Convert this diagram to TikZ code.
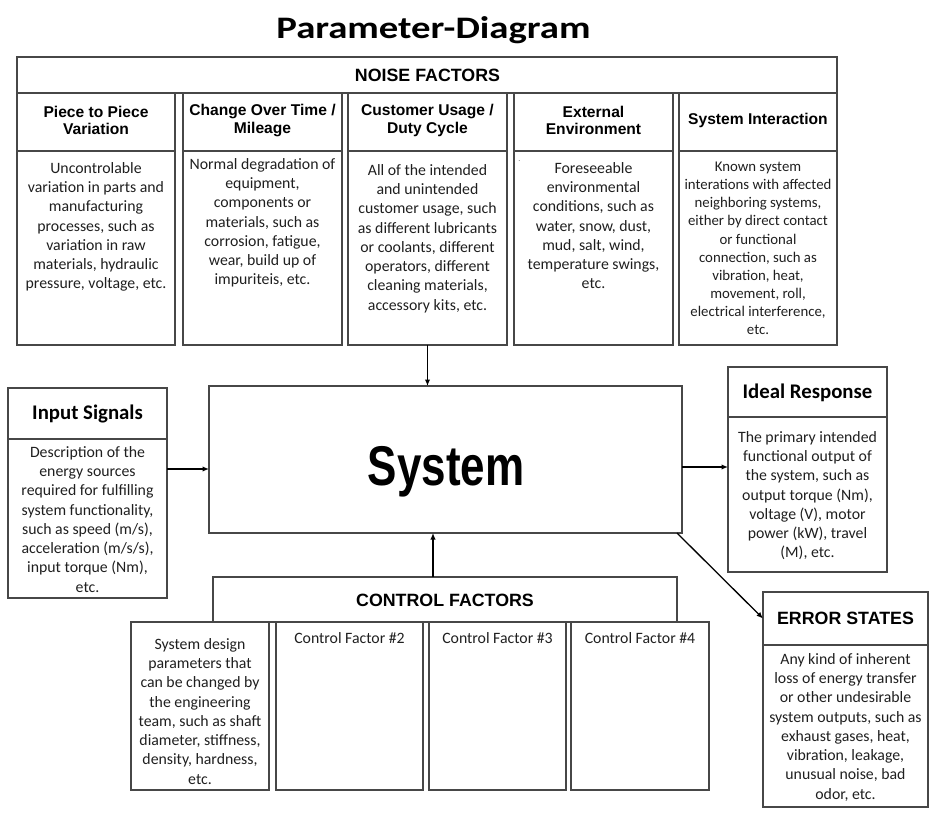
\documentclass[tikz,border=0pt]{standalone}
\usepackage{fontspec}
\usepackage{graphicx}
\setmainfont{Carlito}
\newfontfamily\arialf{Liberation Sans}
\usetikzlibrary{arrows.meta}
\begin{document}
\begin{tikzpicture}[x=1pt,y=-1pt,
  box/.style={draw=black!72, line width=1.2pt, inner sep=0pt, outer sep=0pt, anchor=north west},
  arr/.style={-{Latex[length=6.5pt,width=5.5pt]}, line width=1.3pt, black},
  hdr/.style={font=\arialf\bfseries\fontsize{15.6}{17.4}\selectfont, align=center, inner sep=0pt},
  bighdr/.style={font=\arialf\bfseries\fontsize{17.8}{20}\selectfont, inner sep=0pt},
  calhdr/.style={font=\bfseries\fontsize{20.8}{24}\selectfont, inner sep=0pt},
  body/.style={font=\fontsize{15.8}{19.3}\selectfont, align=center, anchor=north, inner sep=0pt, text=black!88},
  bodys/.style={font=\fontsize{14.8}{18.1}\selectfont, align=center, anchor=north, inner sep=0pt, text=black!88}
]
\useasboundingbox (0,0) rectangle (940,826);

% title
\node[font=\bfseries\fontsize{34}{40}\selectfont, anchor=base, inner sep=0pt] (title) at (433.5,39) {\scalebox{1.14}[0.92]{Parameter-Diagram}};

% noise factors
\node[box, minimum width=820pt, minimum height=36pt] (nh) at (17,57) {};
\node[bighdr] (nht) at (427.5,75) {NOISE FACTORS};

\node[box, minimum width=158pt, minimum height=58pt] (n1h) at (17,93) {};
\node[box, minimum width=158pt, minimum height=194pt] (n1b) at (17,151) {};
\node[box, minimum width=159pt, minimum height=58pt] (n2h) at (183,93) {};
\node[box, minimum width=159pt, minimum height=194pt] (n2b) at (183,151) {};
\node[box, minimum width=159pt, minimum height=58pt] (n3h) at (348,93) {};
\node[box, minimum width=159pt, minimum height=194pt] (n3b) at (348,151) {};
\node[box, minimum width=159pt, minimum height=58pt] (n4h) at (514,93) {};
\node[box, minimum width=159pt, minimum height=194pt] (n4b) at (514,151) {};
\node[box, minimum width=158pt, minimum height=58pt] (n5h) at (679,93) {};
\node[box, minimum width=158pt, minimum height=194pt] (n5b) at (679,151) {};

\node[hdr] (n1ht) at (96,120.5) {Piece to Piece\\Variation};
\node[hdr] (n2ht) at (262.5,120.5) {Change Over Time /\\Mileage};
\node[hdr] (n3ht) at (427.5,120.5) {Customer Usage /\\Duty Cycle};
\node[hdr] (n4ht) at (593.5,120.5) {External\\Environment};
\node[hdr] (n5ht) at (758,120) {System Interaction};

\node[body] (n1t) at (96,162) {Uncontrolable\\variation in parts and\\manufacturing\\processes, such as\\variation in raw\\materials, hydraulic\\pressure, voltage, etc.};
\node[body] (n2t) at (262.5,158) {Normal degradation of\\equipment,\\components or\\materials, such as\\corrosion, fatigue,\\wear, build up of\\impuriteis, etc.};
\node[body] (n3t) at (427.5,164) {All of the intended\\and unintended\\customer usage, such\\as different lubricants\\or coolants, different\\operators, different\\cleaning materials,\\accessory kits, etc.};
\node[body] (n4t) at (593.5,162) {Foreseeable\\environmental\\conditions, such as\\water, snow, dust,\\mud, salt, wind,\\temperature swings,\\etc.};
\node[font=\fontsize{8}{8}\selectfont, inner sep=0pt, text=black!60] (n4dot) at (519.5,161) {.};
\node[bodys] (n5t) at (758,162) {Known system\\interations with affected\\neighboring systems,\\either by direct contact\\or functional\\connection, such as\\vibration, heat,\\movement, roll,\\electrical interference,\\etc.};

% system
\node[box, minimum width=473pt, minimum height=147pt] (sys) at (209,386) {};
\node[font=\arialf\bfseries\fontsize{50}{56}\selectfont, anchor=base, inner sep=0pt] (syst) at (446,485) {\scalebox{0.88}[1.12]{System}};

% input signals
\node[box, minimum width=159pt, minimum height=51pt] (inh) at (8,388) {};
\node[box, minimum width=159pt, minimum height=159pt] (inb) at (8,439) {};
\node[calhdr] (inht) at (87.5,414) {Input Signals};
\node[body] (int) at (87.5,446) {Description of the\\energy sources\\required for fulfilling\\system functionality,\\such as speed (m/s),\\acceleration (m/s/s),\\input torque (Nm),\\etc.};

% ideal response
\node[box, minimum width=159pt, minimum height=50pt] (idh) at (728,367) {};
\node[box, minimum width=159pt, minimum height=155pt] (idb) at (728,417) {};
\node[calhdr] (idht) at (807.5,393) {Ideal Response};
\node[body] (idt) at (807.5,431) {The primary intended\\functional output of\\the system, such as\\output torque (Nm),\\voltage (V), motor\\power (kW), travel\\(M), etc.};

% error states
\node[box, minimum width=165pt, minimum height=53pt] (errh) at (763,592) {};
\node[box, minimum width=165pt, minimum height=162pt] (errb) at (763,645) {};
\node[bighdr] (errht) at (845.5,618.5) {ERROR STATES};
\node[body] (errt) at (845.5,653) {Any kind of inherent\\loss of energy transfer\\or other undesirable\\system outputs, such as\\exhaust gases, heat,\\vibration, leakage,\\unusual noise, bad\\odor, etc.};

% control factors
\node[box, minimum width=464pt, minimum height=45pt] (ch) at (213,577) {};
\node[bighdr] (cht) at (445,600) {CONTROL FACTORS};
\node[box, minimum width=138pt, minimum height=168pt] (k1) at (131,622) {};
\node[box, minimum width=147pt, minimum height=168pt] (k2) at (276,622) {};
\node[box, minimum width=137pt, minimum height=168pt] (k3) at (429,622) {};
\node[box, minimum width=138pt, minimum height=168pt] (k4) at (571,622) {};
\node[body] (k1t) at (200,638) {System design\\parameters that\\can be changed by\\the engineering\\team, such as shaft\\diameter, stiffness,\\density, hardness,\\etc.};
\node[body] (k2t) at (349.5,632) {Control Factor \#2};
\node[body] (k3t) at (497.5,632) {Control Factor \#3};
\node[body] (k4t) at (640,632) {Control Factor \#4};

% connectors
\draw[arr] (n3b.south) -- (n3b.south |- sys.north);
\draw[arr] ([xshift=-12pt]ch.north) coordinate (ca) -- (ca |- sys.south);
\draw[arr] ([yshift=49.5pt]inb.east) coordinate (ia) -- (ia -| sys.west);
\draw[arr] ([yshift=-7.5pt]sys.east) coordinate (oa) -- (oa -| idb.west);
\draw[arr] ([xshift=-5pt]sys.south east) -- (errh.west);
\end{tikzpicture}
\end{document}
